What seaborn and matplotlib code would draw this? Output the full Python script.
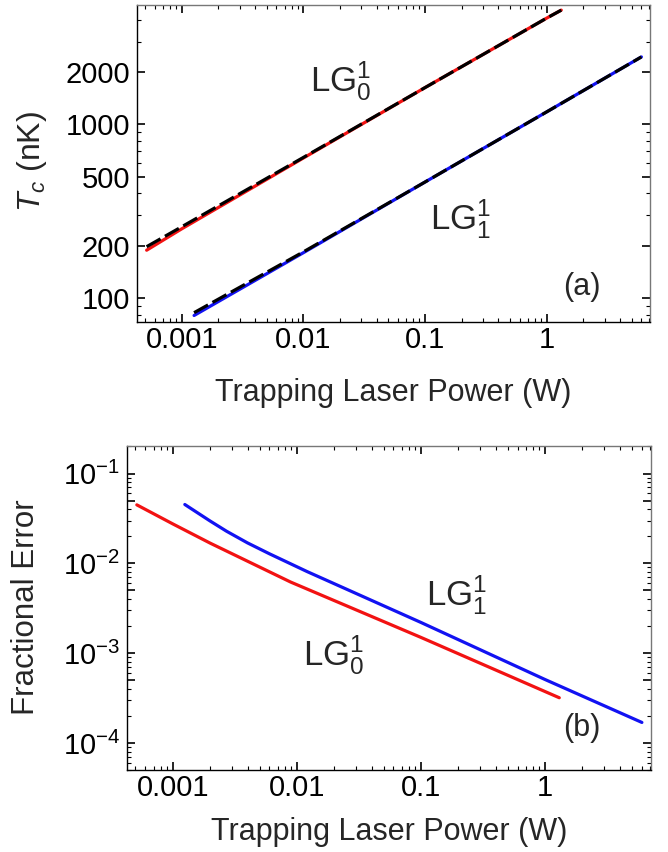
import matplotlib
matplotlib.use("Agg")
import numpy as np
import pandas as pd
import matplotlib.pyplot as plt
import matplotlib.ticker as mticker
import seaborn as sns

# (a) critical temperature vs trap power
p_lg01 = [0.000513, 0.001, 0.01, 0.1, 1.0, 1.32]
tc_lg01 = [188, 250, 640, 1630, 4100, 4560]
tc_lg01_approx = [197, 257, 645, 1630, 4100, 4560]

p_lg11 = [0.00126, 0.01, 0.1, 1.0, 6.02]
tc_lg11 = [79, 182, 465, 1180, 2450]
tc_lg11_approx = [82, 184, 465, 1180, 2450]

# (b) fractional error
p_err01 = [0.000513, 0.001, 0.002, 0.0089, 0.1, 1.30]
err_lg01 = [0.0448, 0.0275, 0.0168, 0.0062, 0.0015, 0.00032]
p_err11 = [0.00125, 0.002, 0.00271, 0.004, 0.006, 0.0121, 0.1, 1.0, 6.02]
err_lg11 = [0.0452, 0.0296, 0.0228, 0.0169, 0.0128, 0.0081, 0.0022, 0.00051, 0.00017]

x_ticks = [0.001, 0.01, 0.1, 1]
x_ticklabels = ['0.001', '0.01', '0.1', '1']
tc_ticks = [100, 200, 500, 1000, 2000]
err_ticks = [1e-1, 5e-2, 1e-2, 5e-3, 1e-3, 5e-4, 1e-4]
err_ticklabels = [r'$10^{-1}$', '', r'$10^{-2}$', '', r'$10^{-3}$', '', r'$10^{-4}$']

sns.set_style('ticks')
plt.rcParams['font.family'] = ['Liberation Sans', 'DejaVu Sans']
plt.rcParams['mathtext.fontset'] = 'custom'
plt.rcParams['mathtext.rm'] = 'Liberation Sans'
plt.rcParams['mathtext.it'] = 'Liberation Sans:italic'
plt.rcParams['mathtext.bf'] = 'Liberation Sans:bold'

fig = plt.figure(figsize=(6.68, 8.52), dpi=100)
ax1 = fig.add_axes([0.205, 0.622, 0.768, 0.372])
ax2 = fig.add_axes([0.190, 0.096, 0.784, 0.380])

red = '#f21212'
blue = '#1212f2'
lw = 2.3
dash = (0, (5, 1.6))

sns.lineplot(x=p_lg01, y=tc_lg01, ax=ax1, color=red, lw=lw)
sns.lineplot(x=p_lg01, y=tc_lg01_approx, ax=ax1, color='black', lw=lw, ls=dash)
sns.lineplot(x=p_lg11, y=tc_lg11, ax=ax1, color=blue, lw=lw)
sns.lineplot(x=p_lg11, y=tc_lg11_approx, ax=ax1, color='black', lw=lw, ls=dash)

sns.lineplot(x=p_err01, y=err_lg01, ax=ax2, color=red, lw=lw)
sns.lineplot(x=p_err11, y=err_lg11, ax=ax2, color=blue, lw=lw)

for ax in (ax1, ax2):
    ax.set_xscale('log')
    ax.set_yscale('log')
    ax.set_xlim(0.000427, 7.08)
    ax.set_xticks(x_ticks)
    ax.set_xticklabels(x_ticklabels)
    ax.xaxis.set_minor_locator(mticker.LogLocator(base=10, subs=np.arange(2, 10), numticks=20))
    ax.xaxis.set_minor_formatter(mticker.NullFormatter())
    ax.yaxis.set_minor_locator(mticker.LogLocator(base=10, subs=np.arange(2, 10), numticks=20))
    ax.yaxis.set_minor_formatter(mticker.NullFormatter())
    ax.tick_params(which='both', direction='in', top=True, right=True,
                   labelsize=21, colors='black')
    ax.tick_params(axis='x', which='major', pad=3)
    ax.tick_params(axis='y', which='major', pad=5)
    ax.tick_params(which='major', length=6, width=1.2)
    ax.tick_params(which='minor', length=3, width=0.8)
    for s in ('top', 'right'):
        ax.spines[s].set_color('#777777')
    for s in ('left', 'bottom'):
        ax.spines[s].set_color('black')
    for s in ax.spines.values():
        s.set_linewidth(1.0)
    ax.set_xlabel('Trapping Laser Power (W)', fontsize=22)

ax1.set_ylim(72.4, 4875)
ax1.set_yticks(tc_ticks)
ax1.set_yticklabels([str(t) for t in tc_ticks])
ax1.set_ylabel(r'$T_c$ (nK)', fontsize=23)
ax1.xaxis.set_label_coords(0.5, -0.177)
ax1.yaxis.set_label_coords(-0.172, 0.506)

ax2.set_ylim(5e-5, 0.2)
ax2.set_yticks(err_ticks)
ax2.set_yticklabels(err_ticklabels)
ax2.set_ylabel('Fractional Error', fontsize=22.5)
ax2.xaxis.set_label_coords(0.5, -0.145)
ax2.yaxis.set_label_coords(-0.164, 0.504)

ax1.text(0.397, 0.761, r'$\mathregular{LG_0^1}$', transform=ax1.transAxes,
         fontsize=25, ha='center', va='center')
ax1.text(0.630, 0.325, r'$\mathregular{LG_1^1}$', transform=ax1.transAxes,
         fontsize=25, ha='center', va='center')
ax1.text(0.868, 0.111, '(a)', transform=ax1.transAxes, fontsize=22, ha='center', va='center')

ax2.text(0.630, 0.541, r'$\mathregular{LG_1^1}$', transform=ax2.transAxes,
         fontsize=25, ha='center', va='center')
ax2.text(0.394, 0.356, r'$\mathregular{LG_0^1}$', transform=ax2.transAxes,
         fontsize=25, ha='center', va='center')
ax2.text(0.868, 0.131, '(b)', transform=ax2.transAxes, fontsize=22, ha='center', va='center')

fig.savefig('out.png', dpi=100)
